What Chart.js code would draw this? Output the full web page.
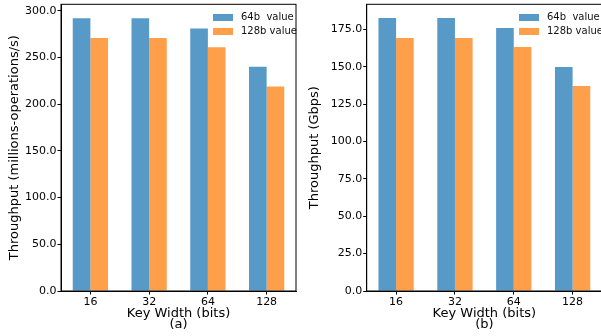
<!DOCTYPE html>
<html>
<head>
<meta charset="utf-8">
<script src="https://cdn.jsdelivr.net/npm/chart.js@4"></script>
<style>
  html, body { margin: 0; padding: 0; background: #fff; overflow: hidden; }
  canvas { position: absolute; top: 0; }
  #chart-a { left: 0; }
  #chart-b { left: 300px; }
</style>
</head>
<body>
<canvas id="chart-a" width="300" height="336"></canvas>
<canvas id="chart-b" width="302" height="336"></canvas>
<script>
/*
/- throughput vs key width, (a) ops and (b) Gbps -/
*/
const keyWidths = ["16", "32", "64", "128"];
const seriesLabels = ["64b  value", "128b value"];

// (a) millions-operations/s
const opsValue64 = [292, 292, 281, 240];
const opsValue128 = [271, 271, 261, 219];
const opsTicks = [0, 50, 100, 150, 200, 250, 300];

// (b) Gbps
const gbpsValue64 = [182.6, 182.6, 175.9, 149.8];
const gbpsValue128 = [169.2, 169.2, 163.2, 137.1];
const gbpsTicks = [0, 25, 50, 75, 100, 125, 150, 175];

const blue = "rgb(87,153,199)";
const orange = "rgb(255,159,74)";
const fontFamily = "'DejaVu Sans', sans-serif";

// black frame round the plot area (matplotlib spines)
const framePlugin = {
    id: "frame",
    afterDraw(chart) {
        const a = chart.chartArea;
        const ctx = chart.ctx;
        ctx.save();
        ctx.strokeStyle = "#000";
        ctx.lineWidth = 1;
        ctx.strokeRect(a.left, a.top, a.right - a.left, a.bottom - a.top);
        ctx.restore();
    }
};

// legend inside the plot, top right, no frame
const innerLegendPlugin = {
    id: "innerLegend",
    afterDraw(chart) {
        const a = chart.chartArea;
        const ctx = chart.ctx;
        ctx.save();
        ctx.font = "10px " + fontFamily;
        ctx.textBaseline = "middle";
        ctx.textAlign = "left";
        chart.data.datasets.forEach(function (ds, i) {
            const y = a.top + 9.7 + i * 14;
            ctx.fillStyle = ds.backgroundColor;
            ctx.fillRect(a.right - 83, y, 20, 7);
            ctx.fillStyle = "#111";
            ctx.fillText(ds.label, a.right - 55, y + 3.5);
        });
        ctx.restore();
    }
};

function makeConfig(v64, v128, tickValues, yMax, yTitle, panel, yWidth, padRight) {
    return {
        type: "bar",
        data: {
            labels: keyWidths,
            datasets: [
                { label: seriesLabels[0], data: v64, backgroundColor: blue },
                { label: seriesLabels[1], data: v128, backgroundColor: orange },
            ],
        },
        options: {
            responsive: false,
            animation: false,
            datasets: {
                bar: { categoryPercentage: 0.6, barPercentage: 1.0 }
            },
            layout: {
                padding: { top: 4.3, right: padRight, left: 0, bottom: 0 }
            },
            scales: {
                x: {
                    offset: true,
                    grid: {
                        display: true,
                        drawOnChartArea: false,
                        drawTicks: true,
                        tickLength: 3.5,
                        color: "#000",
                        tickColor: "#000",
                        offset: false,
                    },
                    border: { display: true, color: "#000", width: 1 },
                    ticks: {
                        color: "#000",
                        padding: 1,
                        font: { family: fontFamily, size: 11 },
                    },
                    title: {
                        display: true,
                        text: ["Key Width (bits)", panel],
                        color: "#000",
                        font: { family: fontFamily, size: 13, lineHeight: 0.85 },
                        padding: { top: 0, bottom: 5.5 },
                    },
                    afterFit: function (scale) {
                        scale.height = 45;
                        scale.paddingLeft = 0;
                        scale.paddingRight = 0;
                    },
                },
                y: {
                    min: 0,
                    max: yMax,
                    grid: {
                        display: true,
                        drawOnChartArea: false,
                        drawTicks: true,
                        tickLength: 3.5,
                        color: "#000",
                        tickColor: "#000",
                    },
                    border: { display: true, color: "#000", width: 1 },
                    afterBuildTicks: function (scale) {
                        scale.ticks = tickValues.map(function (v) { return { value: v }; });
                    },
                    ticks: {
                        color: "#000",
                        padding: 1,
                        font: { family: fontFamily, size: 11 },
                        callback: function (value) {
                            return Number(value).toFixed(1);
                        },
                    },
                    title: {
                        display: true,
                        text: yTitle,
                        color: "#000",
                        font: { family: fontFamily, size: 13 },
                        padding: { top: 7, bottom: 0 },
                    },
                    afterFit: function (scale) {
                        scale.width = yWidth;
                        scale.paddingTop = 0;
                        scale.paddingBottom = 0;
                    },
                },
            },
            plugins: {
                legend: { display: false },
                tooltip: { enabled: false },
            },
        },
        plugins: [framePlugin, innerLegendPlugin],
    };
}

new Chart(
    document.getElementById("chart-a"),
    makeConfig(opsValue64, opsValue128, opsTicks, 307, "Throughput (millions-operations/s)", "(a)", 61, 4)
);
new Chart(
    document.getElementById("chart-b"),
    makeConfig(gbpsValue64, gbpsValue128, gbpsTicks, 191.7, "Throughput (Gbps)", "(b)", 66.7, 0)
);
</script>
</body>
</html>
